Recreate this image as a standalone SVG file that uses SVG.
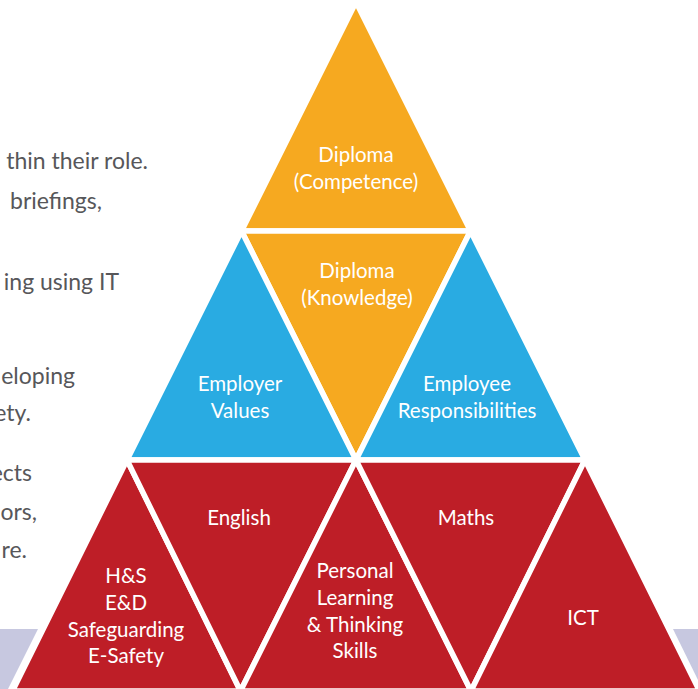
<svg xmlns="http://www.w3.org/2000/svg" width="698" height="689" viewBox="0 0 698 689">
<style>
.bg{fill:#ffffff}
.lav{fill:#c7c8e0}
.tri{stroke:#ffffff;stroke-width:5.5;stroke-linejoin:round}
.or{fill:#f6a920}
.bl{fill:#29abe2}
.rd{fill:#be1e27}
.lbl{font-family:Lato,"Open Sans",sans-serif;font-size:20.5px;fill:#ffffff;text-anchor:middle}
.side{font-family:Lato,"Open Sans",sans-serif;font-size:23px;fill:#57575a;text-anchor:end}
</style>
<rect class="bg" x="0" y="0" width="698" height="689"/>
<g id="background-bands">
<polygon class="lav" points="0,629 38,629 8,689 0,689"/>
<polygon class="lav" points="673,629 698,629 698,680"/>
</g>
<g id="side-text">
<text class="side" x="148" y="169">thin their role.</text>
<text class="side" x="102" y="209">briefings,</text>
<text class="side" x="119" y="290">ing using IT</text>
<text class="side" x="75" y="384">eloping</text>
<text class="side" x="31" y="421">ety.</text>
<text class="side" x="32" y="481">ects</text>
<text class="side" x="37" y="520">ors,</text>
<text class="side" x="27" y="558">re.</text>
</g>
<g id="connectors"></g>
<g id="diploma-competence">
<polygon class="tri or" points="356,2 470.5,231 241.5,231"/>
<text class="lbl" x="356" y="162">Diploma</text>
<text class="lbl" x="356" y="189">(Competence)</text>
</g>
<g id="diploma-knowledge">
<polygon class="tri or" points="241.5,231 470.5,231 356,460"/>
<text class="lbl" x="357" y="278">Diploma</text>
<text class="lbl" x="357" y="305">(Knowledge)</text>
</g>
<g id="employer-values">
<polygon class="tri bl" points="241.5,231 356,460 127,460"/>
<text class="lbl" x="240" y="391">Employer</text>
<text class="lbl" x="240" y="418">Values</text>
</g>
<g id="employee-responsibilities">
<polygon class="tri bl" points="470.5,231 585,460 356,460"/>
<text class="lbl" x="467" y="391">Employee</text>
<text class="lbl" x="467" y="418">Responsibilities</text>
</g>
<g id="hs-ed">
<polygon class="tri rd" points="127,460 240.5,691 12.5,691"/>
<text class="lbl" x="126" y="583">H&amp;S</text>
<text class="lbl" x="126" y="610">E&amp;D</text>
<text class="lbl" x="126" y="637">Safeguarding</text>
<text class="lbl" x="126" y="663">E-Safety</text>
</g>
<g id="english">
<polygon class="tri rd" points="127,460 356,460 240.5,691"/>
<text class="lbl" x="239" y="525">English</text>
</g>
<g id="personal-learning">
<polygon class="tri rd" points="356,460 471,691 240.5,691"/>
<text class="lbl" x="355" y="578">Personal</text>
<text class="lbl" x="355" y="605">Learning</text>
<text class="lbl" x="355" y="632">&amp; Thinking</text>
<text class="lbl" x="355" y="658">Skills</text>
</g>
<g id="maths">
<polygon class="tri rd" points="356,460 585,460 471,691"/>
<text class="lbl" x="466" y="525">Maths</text>
</g>
<g id="ict">
<polygon class="tri rd" points="585,460 699.5,691 471,691"/>
<text class="lbl" x="583" y="625">ICT</text>
</g>
</svg>
